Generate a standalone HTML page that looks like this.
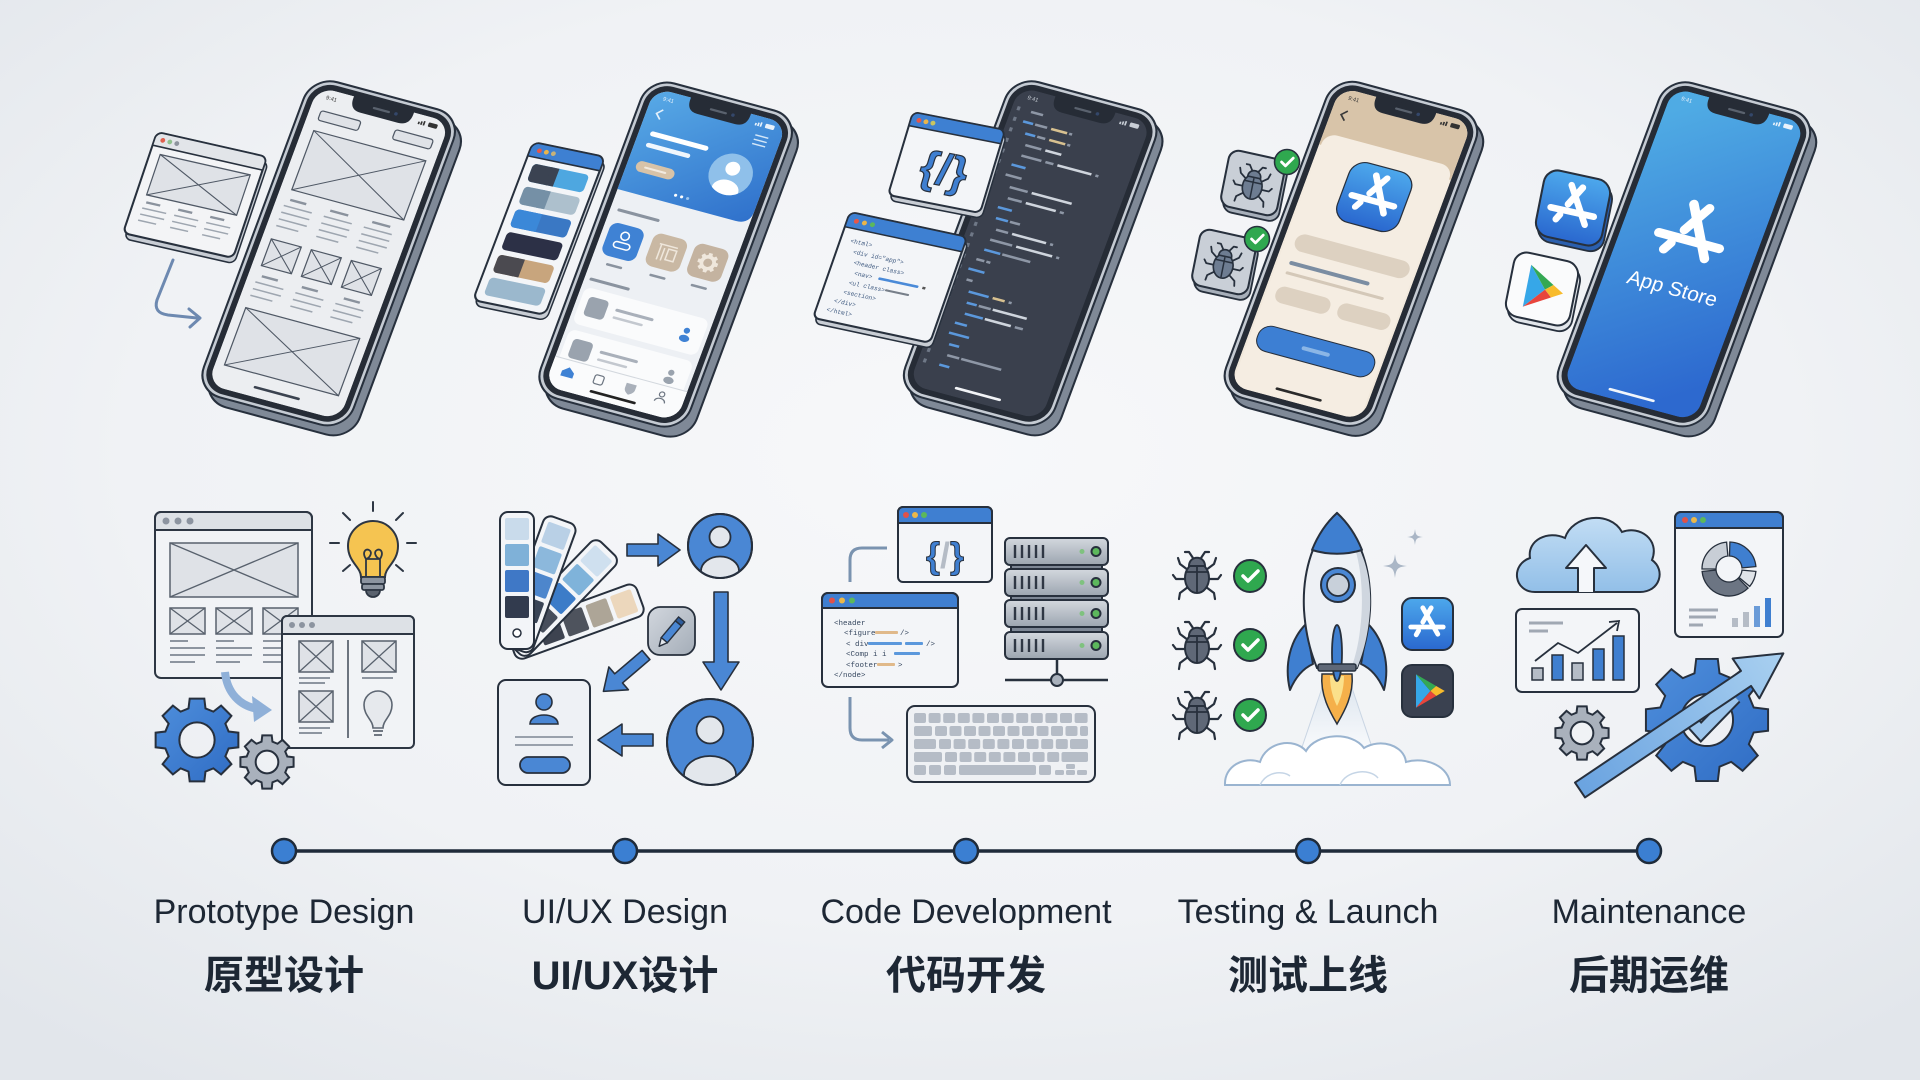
<!DOCTYPE html>
<html lang="en"><head><meta charset="utf-8"><title>App Development Process</title>
<style>
html,body{margin:0;padding:0;width:1920px;height:1080px;overflow:hidden;background:#eef1f5}
svg{display:block}
.en{font-family:"Liberation Sans","Noto Sans CJK SC",sans-serif;font-size:34px;fill:#1d2734}
.zh{font-family:"Liberation Sans","Noto Sans CJK SC",sans-serif;font-size:40px;font-weight:700;fill:#1d2734}
.sm{font-family:"Liberation Sans",sans-serif}
.mono{font-family:"Liberation Mono",monospace}
</style></head><body>
<svg width="1920" height="1080" viewBox="0 0 1920 1080" xmlns="http://www.w3.org/2000/svg">
<defs>
<radialGradient id="bg" cx="50%" cy="42%" r="72%"><stop offset="0" stop-color="#f7f8fa"/><stop offset="0.6" stop-color="#f0f2f5"/><stop offset="1" stop-color="#e2e6eb"/></radialGradient>
<linearGradient id="gHdr" x1="0" y1="0" x2="1" y2="1"><stop offset="0" stop-color="#58aae6"/><stop offset="1" stop-color="#2f70cb"/></linearGradient>
<linearGradient id="gP5" x1="0.3" y1="0" x2="0.6" y2="1"><stop offset="0" stop-color="#4fabe4"/><stop offset="1" stop-color="#2d69cf"/></linearGradient>
<linearGradient id="gApp" x1="0" y1="0" x2="0" y2="1"><stop offset="0" stop-color="#4da8ec"/><stop offset="1" stop-color="#2a68cf"/></linearGradient>
<linearGradient id="gP4" x1="0" y1="0" x2="0" y2="1"><stop offset="0" stop-color="#f6eee3"/><stop offset="1" stop-color="#f0e7da"/></linearGradient>
<linearGradient id="gSrv" x1="0" y1="0" x2="0" y2="1"><stop offset="0" stop-color="#d3d8de"/><stop offset="1" stop-color="#9ca5b0"/></linearGradient>
<linearGradient id="gTile" x1="0" y1="0" x2="1" y2="1"><stop offset="0" stop-color="#d2d7de"/><stop offset="1" stop-color="#a4adb8"/></linearGradient>
<linearGradient id="gArrow" x1="0" y1="0" x2="1" y2="0"><stop offset="0" stop-color="#6aa3e0"/><stop offset="1" stop-color="#a9d0f0"/></linearGradient>
<linearGradient id="gCloud" x1="0" y1="0" x2="0" y2="1"><stop offset="0" stop-color="#c2ddf4"/><stop offset="1" stop-color="#92bfe8"/></linearGradient>
<linearGradient id="gGear" x1="0" y1="0" x2="1" y2="1"><stop offset="0" stop-color="#4f8fdc"/><stop offset="1" stop-color="#2f6cc4"/></linearGradient>
<linearGradient id="gTrail" x1="0" y1="0" x2="0" y2="1"><stop offset="0" stop-color="#dfe7f0"/><stop offset="1" stop-color="#ffffff"/></linearGradient>

<path id="gear" fill-rule="evenodd" d="M75.3,-20.2 L98.5,-17.4 L98.5,17.4 L75.3,20.2 L67.5,39 L81.9,57.4 L57.4,81.9 L39,67.5 L20.2,75.3 L17.4,98.5 L-17.4,98.5 L-20.2,75.3 L-39,67.5 L-57.4,81.9 L-81.9,57.4 L-67.5,39 L-75.3,20.2 L-98.5,17.4 L-98.5,-17.4 L-75.3,-20.2 L-67.5,-39 L-81.9,-57.4 L-57.4,-81.9 L-39,-67.5 L-20.2,-75.3 L-17.4,-98.5 L17.4,-98.5 L20.2,-75.3 L39,-67.5 L57.4,-81.9 L81.9,-57.4 L67.5,-39 Z M42,0 A42,42 0 1 0 -42,0 A42,42 0 1 0 42,0 Z"/>

<g id="pside"><rect width="150" height="330" rx="25" fill="#7f8997" stroke="#27303d" stroke-width="2"/></g>
<g id="pfront"><rect width="150" height="330" rx="25" fill="#c5cbd3" stroke="#27303d" stroke-width="2"/><rect x="3.5" y="3.5" width="143" height="323" rx="22" fill="#262c36"/></g>
<g id="pnotch"><path d="M45,8 H105 V11 C105,19 101,23 94,23 H56 C49,23 45,19 45,11 Z" fill="#262c36"/><rect x="66" y="14" width="17" height="2.2" rx="1.1" fill="#5a626e"/><circle cx="89" cy="15" r="1.7" fill="#34476a"/></g>
<g id="sic"><rect x="112" y="16.5" width="1.6" height="2.5"/><rect x="114.5" y="15.5" width="1.6" height="3.5"/><rect x="117" y="14.5" width="1.6" height="4.5"/><rect x="122" y="14.5" width="9" height="4.5" rx="1.2"/></g>
<clipPath id="scr"><rect x="9" y="9" width="132" height="312" rx="17"/></clipPath>
<clipPath id="av2"><circle cx="107" cy="72" r="21"/></clipPath>
<clipPath id="avT"><circle cx="720" cy="546" r="31"/></clipPath>
<clipPath id="avB"><circle cx="710" cy="742" r="42"/></clipPath>

<g id="asl" fill="none" stroke="#fff" stroke-width="8" stroke-linecap="round">
<path d="M-7,-27 L18,17"/><path d="M7,-27 L-7,-3"/><path d="M-14,11 L-18,18"/><path d="M-27,5 L27,5"/>
</g>
<g id="play">
<path d="M-10,-14 L2,0 L-10,14 Z" fill="#36a7e8"/>
<path d="M-10,-14 L6.8,-4.2 L2,0 Z" fill="#34a853"/>
<path d="M6.8,-4.2 L14,0 L6.8,4.2 L2,0 Z" fill="#f8bb2c"/>
<path d="M-10,14 L2,0 L6.8,4.2 Z" fill="#e8453c"/>
</g>
<g id="bug">
<g stroke="#27303d" stroke-width="2.2" fill="none" stroke-linecap="round" stroke-linejoin="round">
<path d="M-9,-3 L-17,-9 L-19,-15 M9,-3 L17,-9 L19,-15 M-11,6 L-21,6 L-24,2 M11,6 L21,6 L24,2 M-9,14 L-17,20 L-18,26 M9,14 L17,20 L18,26 M-4,-15 L-8,-21 L-12,-21 M4,-15 L8,-21 L12,-21"/>
</g>
<ellipse cx="0" cy="5" rx="12" ry="15"/>
<path d="M-8,-7 C-8,-18 8,-18 8,-7 Z"/>
<path d="M0,-6 V19 M-11,-1 H11" stroke="#27303d" stroke-width="1.8" fill="none"/>
</g>
<g id="chk"><circle r="16" fill="#2fa84f" stroke="#27303d" stroke-width="2"/><path d="M-7,0 L-2,5 L8,-5" stroke="#fff" stroke-width="3.5" fill="none" stroke-linecap="round" stroke-linejoin="round"/></g>
<path id="spark" d="M0,-10 C1,-2 2,-1 10,0 C2,1 1,2 0,10 C-1,2 -2,1 -10,0 C-2,-1 -1,-2 0,-10 Z"/>
</defs>

<rect width="1920" height="1080" fill="url(#bg)"/>

<!-- ================= PHONE 1 : wireframe ================= -->
<g transform="matrix(1,0.227,-0.34,1.01,157,132)">
<rect x="3" y="5" width="110" height="100" rx="6" fill="#c8cdd4" stroke="#27303d" stroke-width="1.5"/>
<rect width="110" height="100" rx="6" fill="#f3f4f6" stroke="#27303d" stroke-width="2"/>
<path d="M0,13 V6 A6,6 0 0 1 6,0 H104 A6,6 0 0 1 110,6 V13 Z" fill="#e2e5e9" stroke="#27303d" stroke-width="1.5"/>
<circle cx="8" cy="6.5" r="2.3" fill="#e0604e"/><circle cx="15" cy="6.5" r="2.3" fill="#8fc18d"/><circle cx="22" cy="6.5" r="2.3" fill="#8d949e"/>
<rect x="10" y="20" width="90" height="40" fill="#dfe2e7" stroke="#4f5865" stroke-width="1.2"/>
<path d="M10,20 L100,60 M100,20 L10,60" stroke="#4f5865" stroke-width="1"/>
<g stroke="#8a929d" stroke-width="2.2"><path d="M12,67 H26 M44,67 H58 M76,67 H90"/></g>
<g stroke="#9ea6b0" stroke-width="1.4"><path d="M10,73 H34 M42,73 H66 M74,73 H98 M10,79 H34 M42,79 H66 M74,79 H98 M10,85 H28 M42,85 H60 M74,85 H92"/></g>
</g>
<path d="M173,260 L157,300 Q153,313 168,315 L197,318" stroke="#6d89b0" stroke-width="3" fill="none" stroke-linecap="round"/>
<path d="M189,309 L200,318 L190,327" stroke="#6d89b0" stroke-width="3" fill="none" stroke-linecap="round" stroke-linejoin="round"/>

<g transform="matrix(1,0.27,-0.355,0.955,318.25,85.5)"><use href="#pside"/></g>
<g transform="matrix(1,0.27,-0.355,0.955,312.25,75.5)">
<use href="#pfront"/>
<g clip-path="url(#scr)">
<rect x="9" y="9" width="132" height="312" fill="#eceef1"/>
<g fill="#dfe2e7" stroke="#4f5865" stroke-width="1.2">
<rect x="20" y="31" width="40" height="10" rx="2.5"/>
<rect x="94" y="30" width="38" height="10" rx="2.5"/>
<rect x="20" y="52" width="112" height="62"/>
<rect x="18" y="166" width="30" height="28"/>
<rect x="58" y="166" width="30" height="28"/>
<rect x="98" y="166" width="30" height="28"/>
<rect x="18" y="238" width="114" height="60"/>
</g>
<path d="M20,52 L132,114 M132,52 L20,114 M18,166 L48,194 M48,166 L18,194 M58,166 L88,194 M88,166 L58,194 M98,166 L128,194 M128,166 L98,194 M18,238 L132,298 M132,238 L18,298" stroke="#4f5865" stroke-width="1" fill="none"/>
<g stroke="#8a929d" stroke-width="2.4"><path d="M22,124 H38 M62,124 H80 M104,124 H122 M22,204 H38 M62,204 H78 M104,204 H120"/></g>
<g stroke="#9ea6b0" stroke-width="1.5"><path d="M18,131 H46 M58,131 H86 M98,131 H126 M18,138 H46 M58,138 H86 M98,138 H126 M18,145 H46 M58,145 H86 M98,145 H126 M18,152 H40 M58,152 H80 M98,152 H120 M18,211 H46 M58,211 H86 M98,211 H126 M18,218 H46 M58,218 H86 M98,218 H126 M18,225 H40 M58,225 H80 M98,225 H120"/></g>
<rect x="52" y="310" width="46" height="2.6" rx="1.3" fill="#3b4350"/>
</g>
<use href="#pnotch"/>
<text x="20" y="19" font-size="5.5" class="sm" fill="#333">9:41</text>
<use href="#sic" fill="#333"/>
</g>

<!-- ================= PHONE 2 : UI/UX ================= -->
<g transform="matrix(1,0.208,-0.375,0.9875,533,142)">
<rect x="3" y="5" width="72" height="160" rx="7" fill="#c8cdd4" stroke="#27303d" stroke-width="1.5"/>
<rect width="72" height="160" rx="7" fill="#f3f5f8" stroke="#27303d" stroke-width="2"/>
<path d="M0,14 V7 A7,7 0 0 1 7,0 H65 A7,7 0 0 1 72,7 V14 Z" fill="#3e80d2" stroke="#27303d" stroke-width="1.5"/>
<circle cx="9" cy="7" r="2.3" fill="#e6574a"/><circle cx="16" cy="7" r="2.3" fill="#eab54a"/><circle cx="23" cy="7" r="2.3" fill="#c6b27a"/>
<rect x="8" y="20" width="56" height="18" rx="4" fill="#4ea7e0"/><rect x="8" y="20" width="24" height="18" rx="4" fill="#3b4352"/><rect x="26" y="20" width="8" height="18" fill="#3b4352"/>
<rect x="8" y="43" width="56" height="18" rx="4" fill="#adc0cd"/><rect x="8" y="43" width="24" height="18" rx="4" fill="#7590a6"/><rect x="26" y="43" width="8" height="18" fill="#7590a6"/>
<rect x="8" y="66" width="56" height="18" rx="4" fill="#3a78c4"/><rect x="8" y="66" width="24" height="18" rx="4" fill="#3b88d8"/><rect x="26" y="66" width="8" height="18" fill="#3b88d8"/>
<rect x="8" y="89" width="56" height="18" rx="4" fill="#2c3046"/>
<rect x="8" y="112" width="56" height="18" rx="4" fill="#c8a57d"/><rect x="8" y="112" width="24" height="18" rx="4" fill="#4b4a50"/><rect x="26" y="112" width="8" height="18" fill="#4b4a50"/>
<rect x="8" y="135" width="56" height="18" rx="4" fill="#9bb8cd"/>
</g>

<g transform="matrix(1,0.27,-0.355,0.955,655.25,86.75)"><use href="#pside"/></g>
<g transform="matrix(1,0.27,-0.355,0.955,649.25,76.75)">
<use href="#pfront"/>
<g clip-path="url(#scr)">
<rect x="9" y="9" width="132" height="312" fill="#edf0f4"/>
<path d="M9,9 H141 V101 Q141,115 127,115 H9 Z" fill="url(#gHdr)"/>
<path d="M24,28 L19,33 L24,38" stroke="#e3f0fb" stroke-width="1.6" fill="none"/>
<path d="M116,28 H129 M116,32.5 H129 M116,37 H129" stroke="#d4e7f8" stroke-width="1.4"/>
<rect x="20" y="51" width="58" height="5" rx="2.5" fill="#fff"/>
<rect x="20" y="63" width="44" height="4.5" rx="2.2" fill="#fff" opacity="0.92"/>
<rect x="18" y="82" width="38" height="11" rx="5.5" fill="#d8c3a8"/><rect x="26" y="86.5" width="22" height="2" rx="1" fill="#f3ebe0"/>
<circle cx="107" cy="72" r="21" fill="#8fc0ea"/>
<g clip-path="url(#av2)"><circle cx="107" cy="66" r="7" fill="#fff"/><ellipse cx="107" cy="88" rx="13" ry="10" fill="#fff"/></g>
<circle cx="64" cy="106" r="1.5" fill="#fff"/><circle cx="70" cy="106" r="1.5" fill="#fff"/><circle cx="76" cy="106" r="1.5" fill="#9cc4ec"/>
<rect x="16" y="133" width="42" height="3" rx="1.5" fill="#8a939f"/>
<rect x="15" y="147" width="34" height="34" rx="8" fill="#3f82d4"/>
<circle cx="32" cy="158" r="4" fill="none" stroke="#fff" stroke-width="1.5"/><rect x="24" y="165" width="16" height="6" rx="3" fill="none" stroke="#fff" stroke-width="1.5"/>
<rect x="58" y="146" width="34" height="34" rx="8" fill="#c9b8a3"/>
<path d="M66,156 H84 M68,156 V172 M72,159 V172 M76,159 H84 V170 H76 Z" stroke="#efe7dc" stroke-width="1.5" fill="none"/>
<rect x="99" y="145" width="34" height="34" rx="8" fill="#c4b3a0"/>
<use href="#gear" transform="translate(116,162) scale(0.1)" fill="#efe7dc"/>
<rect x="24" y="188" width="16" height="2.5" rx="1.2" fill="#8a939f"/><rect x="67" y="187" width="16" height="2.5" rx="1.2" fill="#8a939f"/><rect x="108" y="186" width="16" height="2.5" rx="1.2" fill="#8a939f"/>
<rect x="14" y="206" width="40" height="3" rx="1.5" fill="#8a939f"/>
<rect x="13" y="216" width="124" height="38" rx="7" fill="#fafbfc"/>
<rect x="20" y="224" width="20" height="20" rx="4" fill="#9aa3ae"/>
<rect x="48" y="229" width="38" height="3" rx="1.5" fill="#a9b0ba"/><rect x="48" y="237" width="30" height="2.5" rx="1.2" fill="#c3c8cf"/>
<circle cx="120" cy="232" r="3" fill="#3f82d4"/><ellipse cx="120" cy="240" rx="5" ry="3.5" fill="#3f82d4"/>
<rect x="13" y="260" width="124" height="38" rx="7" fill="#fafbfc"/>
<rect x="20" y="268" width="20" height="20" rx="4" fill="#9aa3ae"/>
<rect x="48" y="273" width="38" height="3" rx="1.5" fill="#a9b0ba"/><rect x="48" y="281" width="30" height="2.5" rx="1.2" fill="#c3c8cf"/>
<circle cx="120" cy="276" r="3" fill="#9aa3ae"/><ellipse cx="120" cy="284" rx="5" ry="3.5" fill="#9aa3ae"/>
<rect x="9" y="290" width="132" height="31" fill="#fafbfc"/>
<path d="M9,290 H141" stroke="#d3d8de" stroke-width="1"/>
<path d="M20,302 L26,297 L32,302 V307 H20 Z" fill="#3f82d4"/>
<rect x="52" y="297" width="9" height="9" rx="2" fill="none" stroke="#6d7682" stroke-width="1.2"/>
<path d="M83,297 H93 V302 C93,305 90,307 88,308 C86,307 83,305 83,302 Z" fill="#a9b0ba"/>
<circle cx="119" cy="299" r="2.5" fill="none" stroke="#6d7682" stroke-width="1.2"/><path d="M114,307 C114,302 124,302 124,307" fill="none" stroke="#6d7682" stroke-width="1.2"/>
<rect x="52" y="313" width="46" height="2.6" rx="1.3" fill="#222"/>
</g>
<use href="#pnotch"/>
<text x="20" y="19" font-size="5.5" class="sm" fill="#e8f2fb">9:41</text>
<use href="#sic" fill="#e8f2fb"/>
</g>

<!-- ================= PHONE 3 : code ================= -->
<g transform="matrix(1,0.27,-0.355,0.955,1019.75,85.5)"><use href="#pside"/></g>
<g transform="matrix(1,0.27,-0.355,0.955,1013.75,75.5)">
<use href="#pfront"/>
<g clip-path="url(#scr)">
<rect x="9" y="9" width="132" height="312" fill="#3a404d"/>
<g fill="#6f7887">
<rect x="14" y="28" width="3" height="4"/><rect x="14" y="39" width="3" height="4"/><rect x="14" y="50" width="3" height="4"/><rect x="14" y="61" width="3" height="4"/><rect x="14" y="72" width="3" height="4"/><rect x="14" y="83" width="3" height="4"/><rect x="14" y="94" width="3" height="4"/><rect x="14" y="105" width="3" height="4"/><rect x="14" y="116" width="3" height="4"/><rect x="14" y="127" width="3" height="4"/><rect x="14" y="138" width="3" height="4"/><rect x="14" y="149" width="3" height="4"/><rect x="14" y="160" width="3" height="4"/><rect x="14" y="171" width="3" height="4"/><rect x="14" y="182" width="3" height="4"/><rect x="14" y="193" width="3" height="4"/><rect x="14" y="204" width="3" height="4"/><rect x="14" y="215" width="3" height="4"/><rect x="14" y="226" width="3" height="4"/><rect x="14" y="237" width="3" height="4"/><rect x="14" y="248" width="3" height="4"/><rect x="14" y="259" width="3" height="4"/><rect x="14" y="270" width="3" height="4"/><rect x="14" y="281" width="3" height="4"/><rect x="14" y="292" width="3" height="4"/>
</g>
<g fill="#8e97a6">
<rect x="28" y="29" width="12" height="2.5"/>
<rect x="36" y="40" width="12" height="2.5"/><rect x="70" y="40" width="3" height="2.5"/>
<rect x="42" y="51" width="8" height="2.5"/><rect x="72" y="51" width="3" height="2.5"/>
<rect x="34" y="62" width="16" height="2.5"/>
<rect x="34" y="73" width="20" height="2.5"/><rect x="58" y="73" width="8" height="2.5"/><rect x="108" y="73" width="3" height="2.5"/>
<rect x="26" y="95" width="16" height="2.5"/>
<rect x="34" y="106" width="18" height="2.5"/>
<rect x="36" y="117" width="14" height="2.5"/><rect x="88" y="117" width="4" height="2.5"/>
<rect x="46" y="139" width="10" height="2.5"/>
<rect x="36" y="150" width="12" height="2.5"/><rect x="90" y="150" width="3" height="2.5"/>
<rect x="34" y="161" width="22" height="2.5"/><rect x="100" y="161" width="3" height="2.5"/>
<rect x="50" y="172" width="28" height="2.5"/>
<rect x="28" y="183" width="8" height="2.5"/><rect x="38" y="183" width="4" height="2.5"/>
<rect x="26" y="205" width="6" height="2.5"/>
<rect x="72" y="216" width="3" height="2.5"/>
<rect x="46" y="227" width="12" height="2.5"/>
<rect x="86" y="238" width="8" height="2.5"/>
<rect x="34" y="282" width="12" height="2.5"/><rect x="48" y="282" width="40" height="2.5"/>
</g>
<g fill="#5b98dc">
<rect x="24" y="40" width="10" height="2.5"/><rect x="30" y="51" width="10" height="2.5"/>
<rect x="28" y="84" width="14" height="2.5"/><rect x="30" y="128" width="14" height="2.5"/><rect x="32" y="139" width="12" height="2.5"/>
<rect x="32" y="172" width="16" height="2.5"/><rect x="24" y="194" width="16" height="2.5"/><rect x="32" y="216" width="20" height="2.5"/>
<rect x="34" y="227" width="10" height="2.5"/><rect x="36" y="238" width="18" height="2.5"/><rect x="30" y="249" width="12" height="2.5"/>
<rect x="28" y="260" width="20" height="2.5"/><rect x="32" y="271" width="10" height="2.5"/><rect x="30" y="293" width="10" height="2.5"/>
</g>
<g fill="#d8c190">
<rect x="52" y="40" width="16" height="2.5"/><rect x="54" y="51" width="16" height="2.5"/><rect x="56" y="216" width="12" height="2.5"/>
</g>
<g fill="#cfd5dd">
<rect x="54" y="62" width="16" height="2.5"/><rect x="70" y="73" width="34" height="2.5"/><rect x="56" y="106" width="40" height="2.5"/>
<rect x="54" y="117" width="30" height="2.5"/><rect x="52" y="150" width="34" height="2.5"/><rect x="60" y="161" width="36" height="2.5"/>
<rect x="60" y="227" width="34" height="2.5"/><rect x="56" y="238" width="26" height="2.5"/>
</g>
<rect x="52" y="311" width="46" height="2.6" rx="1.3" fill="#f2f4f7"/>
</g>
<use href="#pnotch"/>
<text x="20" y="19" font-size="5.5" class="sm" fill="#c8ced6">9:41</text>
<use href="#sic" fill="#c8ced6"/>
</g>
<!-- code windows -->
<g transform="matrix(1,0.196,-0.294,0.976,913,112)">
<rect x="3" y="5" width="92" height="85" rx="6" fill="#c8cdd4" stroke="#27303d" stroke-width="1.5"/>
<rect width="92" height="85" rx="6" fill="#f3f5f8" stroke="#27303d" stroke-width="2"/>
<path d="M0,14 V6 A6,6 0 0 1 6,0 H86 A6,6 0 0 1 92,6 V14 Z" fill="#3e80d2" stroke="#27303d" stroke-width="1.5"/>
<circle cx="8" cy="7" r="2.4" fill="#e6574a"/><circle cx="15" cy="7" r="2.4" fill="#eab54a"/><circle cx="22" cy="7" r="2.4" fill="#c9c560"/>
<text x="46" y="65" text-anchor="middle" class="sm" font-size="44" font-weight="700" fill="#3f7fd1" stroke="#27303d" stroke-width="1.2">{/}</text>
</g>
<g transform="matrix(1,0.214,-0.343,0.98,850,212)">
<rect x="3" y="5" width="117" height="108" rx="6" fill="#c8cdd4" stroke="#27303d" stroke-width="1.5"/>
<rect width="117" height="108" rx="6" fill="#f3f5f8" stroke="#27303d" stroke-width="2"/>
<path d="M0,15 V6 A6,6 0 0 1 6,0 H111 A6,6 0 0 1 117,6 V15 Z" fill="#3e80d2" stroke="#27303d" stroke-width="1.5"/>
<circle cx="9" cy="7.5" r="2.4" fill="#e6574a"/><circle cx="17" cy="7.5" r="2.4" fill="#eab54a"/><circle cx="25" cy="7.5" r="2.4" fill="#5cb85c"/>
<g class="mono" font-size="6" fill="#3f5a80">
<text x="10" y="29">&lt;html&gt;</text>
<text x="16" y="39">&lt;div id="app"&gt;</text>
<text x="20" y="49">&lt;header class&gt;</text>
<text x="24" y="59">&lt;nav&gt;</text>
<text x="22" y="69">&lt;ul class&gt;</text>
<text x="20" y="79">&lt;section&gt;</text>
<text x="14" y="89">&lt;/div&gt;</text>
<text x="10" y="99">&lt;/html&gt;</text>
</g>
<rect x="48" y="56" width="40" height="2.5" rx="1" fill="#4a8ad8"/><rect x="92" y="56" width="3" height="2.5" fill="#555"/>
<rect x="58" y="66" width="24" height="2" rx="1" fill="#777f8a"/>
</g>

<!-- ================= PHONE 4 : testing ================= -->
<g transform="matrix(1,0.27,-0.355,0.955,1340.5,86)"><use href="#pside"/></g>
<g transform="matrix(1,0.27,-0.355,0.955,1334.5,76)">
<use href="#pfront"/>
<g clip-path="url(#scr)">
<rect x="9" y="9" width="132" height="312" fill="url(#gP4)"/>
<rect x="9" y="9" width="132" height="60" fill="#d8c4a9"/>
<path d="M24,30 L19,35 L24,40" stroke="#3a3a3a" stroke-width="1.6" fill="none"/>
<rect x="11" y="56" width="128" height="270" rx="12" fill="#f5ede2"/>
<rect x="46" y="74" width="62" height="62" rx="15" fill="url(#gApp)" stroke="#27303d" stroke-width="1.2"/>
<use href="#asl" transform="translate(77,105) scale(0.78)"/>
<rect x="20" y="158" width="114" height="18" rx="9" fill="#ddd1c1"/>
<rect x="22" y="187" width="80" height="4" rx="2" fill="#7b8da2"/>
<rect x="22" y="198" width="98" height="3" rx="1.5" fill="#d4c8b8"/>
<rect x="20" y="213" width="54" height="17" rx="8" fill="#ddd1c1"/>
<rect x="82" y="213" width="52" height="17" rx="8" fill="#ddd1c1"/>
<rect x="18" y="254" width="116" height="26" rx="12" fill="#3d7fd3" stroke="#27303d" stroke-width="1"/>
<rect x="62" y="265" width="28" height="4" rx="2" fill="#8bb6e6"/>
<rect x="52" y="311" width="46" height="2.6" rx="1.3" fill="#2a2a2a"/>
</g>
<use href="#pnotch"/>
<text x="20" y="19" font-size="5.5" class="sm" fill="#333">9:41</text>
<use href="#sic" fill="#333"/>
</g>
<!-- bug cards -->
<g transform="translate(1253,183) matrix(1,0.22,-0.2,1,0,0)">
<rect x="-25" y="-23" width="56" height="56" rx="10" fill="#a7afba" stroke="#27303d" stroke-width="1.8"/>
<rect x="-28" y="-28" width="56" height="56" rx="10" fill="#c9cfd7" stroke="#27303d" stroke-width="2"/>
<use href="#bug" transform="scale(0.8)" fill="#6e7d92" stroke="#27303d" stroke-width="2"/>
</g>
<use href="#chk" transform="translate(1287,162) scale(0.78)"/>
<g transform="translate(1224,262) matrix(1,0.22,-0.2,1,0,0)">
<rect x="-25" y="-23" width="56" height="56" rx="10" fill="#a7afba" stroke="#27303d" stroke-width="1.8"/>
<rect x="-28" y="-28" width="56" height="56" rx="10" fill="#c9cfd7" stroke="#27303d" stroke-width="2"/>
<use href="#bug" transform="scale(0.8)" fill="#6e7d92" stroke="#27303d" stroke-width="2"/>
</g>
<use href="#chk" transform="translate(1257,239) scale(0.78)"/>

<!-- ================= PHONE 5 : launch ================= -->
<g transform="matrix(1,0.27,-0.355,0.955,1673.5,86.5)"><use href="#pside"/></g>
<g transform="matrix(1,0.27,-0.355,0.955,1667.5,76.5)">
<use href="#pfront"/>
<g clip-path="url(#scr)">
<rect x="9" y="9" width="132" height="312" fill="url(#gP5)"/>
<use href="#asl" transform="translate(75,145) scale(1.12)"/>
<text x="76" y="207" text-anchor="middle" class="sm" font-size="20" fill="#ffffff">App Store</text>
<rect x="52" y="311" width="46" height="2.6" rx="1.3" fill="#f2f6fb"/>
</g>
<use href="#pnotch"/>
<text x="20" y="19" font-size="5.5" class="sm" fill="#e8f2fb">9:41</text>
<use href="#sic" fill="#e8f2fb"/>
</g>
<g transform="translate(1573,208) matrix(1,0.22,-0.2,1,0,0)">
<rect x="-30" y="-28" width="66" height="66" rx="14" fill="#2b5fae" stroke="#27303d" stroke-width="1.8"/>
<rect x="-33" y="-33" width="66" height="66" rx="14" fill="url(#gApp)" stroke="#27303d" stroke-width="2"/>
<use href="#asl" transform="scale(0.8)"/>
</g>
<g transform="translate(1542,289) matrix(1,0.22,-0.2,1,0,0)">
<rect x="-29" y="-27" width="64" height="64" rx="13" fill="#e1e5ea" stroke="#27303d" stroke-width="1.8"/>
<rect x="-32" y="-32" width="64" height="64" rx="13" fill="#fafbfc" stroke="#27303d" stroke-width="2"/>
<use href="#play" transform="scale(1.5)"/>
</g>

<!-- ================= ICON GROUP 1 ================= -->
<rect x="155" y="512" width="157" height="166" rx="6" fill="#f1f3f6" stroke="#2d3643" stroke-width="2"/>
<path d="M155,530 V518 A6,6 0 0 1 161,512 H306 A6,6 0 0 1 312,518 V530 Z" fill="#dde1e6" stroke="#2d3643" stroke-width="2"/>
<circle cx="166" cy="521" r="3.5" fill="#8c94a0"/><circle cx="178" cy="521" r="3.5" fill="#8c94a0"/><circle cx="190" cy="521" r="3.5" fill="#8c94a0"/>
<g fill="#dfe2e7" stroke="#58616d" stroke-width="1.5">
<rect x="170" y="543" width="128" height="54"/><rect x="170" y="608" width="35" height="26"/><rect x="216" y="608" width="36" height="26"/><rect x="263" y="608" width="35" height="26"/>
</g>
<path d="M170,543 L298,597 M298,543 L170,597 M170,608 L205,634 M205,608 L170,634 M216,608 L252,634 M252,608 L216,634 M263,608 L298,634 M298,608 L263,634" stroke="#58616d" stroke-width="1.3" fill="none"/>
<g stroke="#8d95a0" stroke-width="2"><path d="M170,641 H188 M216,641 H234 M263,641 H281 M170,648 H205 M216,648 H252 M263,648 H298 M170,655 H205 M216,655 H252 M263,655 H298 M170,662 H195 M216,662 H240 M263,662 H288"/></g>
<!-- lightbulb -->
<g stroke="#2d3643" stroke-width="2" stroke-linecap="round"><path d="M373,502 V511 M330,543 H339 M407,543 H416 M343,513 L350,520 M403,513 L396,520 M343,571 L350,565 M403,571 L396,565"/></g>
<path d="M361,577 C361,567 348,562 348,546 A25,25 0 1 1 398,546 C398,562 385,567 385,577 Z" fill="#f5c451" stroke="#2d3643" stroke-width="2"/>
<path d="M366,576 V559 C362,553 365,548 369,550 C373,552 370,558 366,559 M380,576 V559 C384,553 381,548 377,550 C373,552 376,558 380,559 M366,559 H380" stroke="#2d3643" stroke-width="1.8" fill="none"/>
<rect x="361" y="577" width="24" height="7" rx="2" fill="#8c94a0" stroke="#2d3643" stroke-width="1.8"/>
<rect x="362" y="584" width="22" height="6" rx="2" fill="#8c94a0" stroke="#2d3643" stroke-width="1.8"/>
<path d="M366,590 H380 C380,595 376,597 373,597 C370,597 366,595 366,590 Z" fill="#5a626e" stroke="#2d3643" stroke-width="1.8"/>
<!-- second window -->
<rect x="282" y="616" width="132" height="132" rx="5" fill="#f1f3f6" stroke="#2d3643" stroke-width="2"/>
<path d="M282,634 V621 A5,5 0 0 1 287,616 H409 A5,5 0 0 1 414,621 V634 Z" fill="#dde1e6" stroke="#2d3643" stroke-width="2"/>
<circle cx="292" cy="625" r="3" fill="#8c94a0"/><circle cx="302" cy="625" r="3" fill="#8c94a0"/><circle cx="312" cy="625" r="3" fill="#8c94a0"/>
<g fill="#dfe2e7" stroke="#58616d" stroke-width="1.5"><rect x="299" y="641" width="34" height="31"/><rect x="362" y="641" width="34" height="31"/><rect x="299" y="691" width="34" height="31"/></g>
<path d="M299,641 L333,672 M333,641 L299,672 M362,641 L396,672 M396,641 L362,672 M299,691 L333,722 M333,691 L299,722" stroke="#58616d" stroke-width="1.3"/>
<g stroke="#8d95a0" stroke-width="2"><path d="M299,678 H330 M299,683 H325 M362,678 H393 M299,728 H330 M299,733 H322"/></g>
<path d="M348,640 V738" stroke="#5d6672" stroke-width="1.8"/>
<path d="M373,728 C373,720 364,716 364,705 A14,14 0 1 1 392,705 C392,716 383,720 383,728 Z" fill="#e6e9ed" stroke="#5d6672" stroke-width="1.6"/>
<path d="M373,731 H383 M374,735 H382" stroke="#5d6672" stroke-width="1.8"/>
<!-- curved arrow -->
<path d="M225,672 C227,693 240,706 258,709" stroke="#8fb0d8" stroke-width="8" fill="none"/>
<path d="M252,696 L272,710 L254,722 Z" fill="#8fb0d8"/>
<!-- gears -->
<use href="#gear" transform="translate(197,740) scale(0.42)" fill="url(#gGear)" stroke="#27303d" stroke-width="4.8"/>
<use href="#gear" transform="translate(267,762) scale(0.27)" fill="#a9b1bc" stroke="#27303d" stroke-width="7.4"/>

<!-- ================= ICON GROUP 2 ================= -->
<g transform="translate(517,643) rotate(70)">
<rect x="-17" y="-131" width="34" height="137" rx="8" fill="#f3f5f8" stroke="#27303d" stroke-width="2"/>
<rect x="-12" y="-125" width="24" height="22" rx="2" fill="#ecd7bc"/><rect x="-12" y="-99" width="24" height="22" rx="2" fill="#ada597"/><rect x="-12" y="-73" width="24" height="22" rx="2" fill="#4e535d"/><rect x="-12" y="-47" width="24" height="22" rx="2" fill="#3d4350"/>
</g>
<g transform="translate(517,643) rotate(44)">
<rect x="-17" y="-131" width="34" height="137" rx="8" fill="#f3f5f8" stroke="#27303d" stroke-width="2"/>
<rect x="-12" y="-125" width="24" height="22" rx="2" fill="#cfe0ef"/><rect x="-12" y="-99" width="24" height="22" rx="2" fill="#7fb3da"/><rect x="-12" y="-73" width="24" height="22" rx="2" fill="#3c7cc8"/><rect x="-12" y="-47" width="24" height="22" rx="2" fill="#474e5c"/>
</g>
<g transform="translate(517,643) rotate(20)">
<rect x="-17" y="-131" width="34" height="137" rx="8" fill="#f3f5f8" stroke="#27303d" stroke-width="2"/>
<rect x="-12" y="-125" width="24" height="22" rx="2" fill="#b9d0e6"/><rect x="-12" y="-99" width="24" height="22" rx="2" fill="#8cb8dc"/><rect x="-12" y="-73" width="24" height="22" rx="2" fill="#4d86cc"/><rect x="-12" y="-47" width="24" height="22" rx="2" fill="#3a4556"/>
</g>
<g transform="translate(517,643)">
<rect x="-17" y="-131" width="34" height="137" rx="8" fill="#f3f5f8" stroke="#27303d" stroke-width="2"/>
<rect x="-12" y="-125" width="24" height="22" rx="2" fill="#c9dbeb"/><rect x="-12" y="-99" width="24" height="22" rx="2" fill="#7fb1d8"/><rect x="-12" y="-73" width="24" height="22" rx="2" fill="#3f78c6"/><rect x="-12" y="-47" width="24" height="22" rx="2" fill="#323b4e"/>
<circle cx="0" cy="-10" r="4" fill="#fff" stroke="#27303d" stroke-width="1.5"/>
</g>
<g fill="#4a87d4" stroke="#27303d" stroke-width="1.6" stroke-linejoin="round">
<path d="M627,544 H658 V534 L680,550 L658,566 V556 H627 Z"/>
<path d="M714,592 H728 V662 H739 L721,690 L703,662 H714 Z"/>
<path d="M653,734 H622 V724 L598,740 L622,756 V746 H653 Z"/>
<path transform="translate(646,655) rotate(139.5)" d="M0,-6 H36 V-15 L56,0 L36,15 V6 H0 Z"/>
</g>
<circle cx="720" cy="546" r="32" fill="#4a87d4" stroke="#27303d" stroke-width="2"/>
<g clip-path="url(#avT)"><ellipse cx="720" cy="571" rx="19" ry="14.5" fill="#e3e7ec" stroke="#27303d" stroke-width="1.8"/></g>
<circle cx="720" cy="537" r="10.5" fill="#e3e7ec" stroke="#27303d" stroke-width="1.8"/>
<circle cx="720" cy="546" r="32" fill="none" stroke="#27303d" stroke-width="2"/>
<circle cx="710" cy="742" r="43" fill="#4a87d4" stroke="#27303d" stroke-width="2"/>
<g clip-path="url(#avB)"><ellipse cx="710" cy="775" rx="26" ry="19" fill="#e3e7ec" stroke="#27303d" stroke-width="1.8"/></g>
<circle cx="710" cy="730" r="13.5" fill="#e3e7ec" stroke="#27303d" stroke-width="1.8"/>
<circle cx="710" cy="742" r="43" fill="none" stroke="#27303d" stroke-width="2"/>
<rect x="648" y="607" width="47" height="48" rx="12" fill="url(#gTile)" stroke="#27303d" stroke-width="1.8"/>
<g transform="translate(672,631) rotate(-50)">
<rect x="-12" y="-4" width="22" height="8" fill="#4a87d4" stroke="#27303d" stroke-width="1.4"/>
<path d="M-12,-4 L-20,0 L-12,4 Z" fill="#e3e7ec" stroke="#27303d" stroke-width="1.4" stroke-linejoin="round"/>
<rect x="10" y="-4" width="5" height="8" fill="#2f5d9c" stroke="#27303d" stroke-width="1.4"/>
</g>
<rect x="498" y="680" width="92" height="105" rx="8" fill="#eef1f5" stroke="#27303d" stroke-width="2"/>
<circle cx="544" cy="702" r="8" fill="#4a87d4" stroke="#27303d" stroke-width="1.6"/>
<path d="M530,724 C530,712 558,712 558,724 Z" fill="#4a87d4" stroke="#27303d" stroke-width="1.6"/>
<path d="M515,737 H573 M515,745 H573" stroke="#99a1ac" stroke-width="2"/>
<rect x="520" y="757" width="50" height="16" rx="8" fill="#4a87d4" stroke="#27303d" stroke-width="1.8"/>

<!-- ================= ICON GROUP 3 ================= -->
<path d="M850,582 V560 Q850,548 862,548 H887" stroke="#7a93b0" stroke-width="3" fill="none"/>
<path d="M850,697 V728 Q850,740 862,740 H889" stroke="#7a93b0" stroke-width="3" fill="none"/>
<path d="M882,732 L892,740 L882,748" stroke="#7a93b0" stroke-width="3" fill="none" stroke-linejoin="round"/>
<rect x="898" y="507" width="94" height="75" rx="5" fill="#f3f5f8" stroke="#27303d" stroke-width="2"/>
<path d="M898,523 V512 A5,5 0 0 1 903,507 H987 A5,5 0 0 1 992,512 V523 Z" fill="#3f7fd1" stroke="#27303d" stroke-width="2"/>
<circle cx="906" cy="515" r="3" fill="#e0524a"/><circle cx="915" cy="515" r="3" fill="#ecb84a"/><circle cx="924" cy="515" r="3" fill="#5cb85c"/>
<text x="945" y="568" text-anchor="middle" class="sm" font-size="36" font-weight="700" stroke="#27303d" stroke-width="1"><tspan fill="#3f7fd1">{</tspan><tspan fill="#b5bcc6" stroke="none">/</tspan><tspan fill="#3f7fd1">}</tspan></text>
<rect x="822" y="593" width="136" height="94" rx="6" fill="#f3f5f8" stroke="#27303d" stroke-width="2"/>
<path d="M822,608 V599 A6,6 0 0 1 828,593 H952 A6,6 0 0 1 958,599 V608 Z" fill="#3f7fd1" stroke="#27303d" stroke-width="2"/>
<circle cx="832" cy="600.5" r="3" fill="#e0524a"/><circle cx="842" cy="600.5" r="3" fill="#ecb84a"/><circle cx="852" cy="600.5" r="3" fill="#5cb85c"/>
<g class="mono" font-size="7.5" fill="#36475f">
<text x="834" y="625">&lt;header</text>
<text x="844" y="635">&lt;figure</text><text x="900" y="635">/&gt;</text>
<text x="846" y="646">&lt; div</text><text x="926" y="646">/&gt;</text>
<text x="846" y="656">&lt;Comp i i</text>
<text x="846" y="667">&lt;footer</text><text x="898" y="667">&gt;</text>
<text x="834" y="677">&lt;/node&gt;</text>
</g>
<rect x="875" y="631" width="23" height="3" rx="1" fill="#e0b98a"/>
<rect x="868" y="642" width="34" height="3" rx="1" fill="#5b98dc"/><rect x="905" y="642" width="18" height="3" rx="1" fill="#5b98dc"/>
<rect x="894" y="652" width="26" height="3" rx="1" fill="#5b98dc"/>
<rect x="877" y="663" width="18" height="3" rx="1" fill="#e0b98a"/>
<!-- server -->
<rect x="1011" y="545" width="91" height="110" fill="#7d8795" stroke="#27303d" stroke-width="2"/>
<g fill="url(#gSrv)" stroke="#27303d" stroke-width="2">
<rect x="1005" y="538" width="103" height="27" rx="5"/><rect x="1005" y="569" width="103" height="27" rx="5"/><rect x="1005" y="600" width="103" height="27" rx="5"/><rect x="1005" y="632" width="103" height="27" rx="5"/>
</g>
<g stroke="#2f3744" stroke-width="2.4"><path d="M1015,545 V558 M1022,545 V558 M1029,545 V558 M1036,545 V558 M1043,545 V558 M1015,576 V589 M1022,576 V589 M1029,576 V589 M1036,576 V589 M1043,576 V589 M1015,607 V620 M1022,607 V620 M1029,607 V620 M1036,607 V620 M1043,607 V620 M1015,639 V652 M1022,639 V652 M1029,639 V652 M1036,639 V652 M1043,639 V652"/></g>
<g fill="#7fc27f"><circle cx="1082" cy="551.5" r="2.5"/><circle cx="1082" cy="582.5" r="2.5"/><circle cx="1082" cy="613.5" r="2.5"/><circle cx="1082" cy="645.5" r="2.5"/></g>
<g fill="#5cb85c" stroke="#27303d" stroke-width="2"><circle cx="1096" cy="551.5" r="4.5"/><circle cx="1096" cy="582.5" r="4.5"/><circle cx="1096" cy="613.5" r="4.5"/><circle cx="1096" cy="645.5" r="4.5"/></g>
<path d="M1057,659 V674 M1005,680 H1051 M1063,680 H1108" stroke="#27303d" stroke-width="2.5"/>
<circle cx="1057" cy="680" r="6" fill="#a9b1bc" stroke="#27303d" stroke-width="2"/>
<!-- keyboard -->
<rect x="907" y="706" width="188" height="76" rx="8" fill="#eff1f4" stroke="#27303d" stroke-width="2"/>
<g fill="#b5bcc6">
<rect x="914" y="713" width="12" height="10" rx="2"/><rect x="928.6" y="713" width="12" height="10" rx="2"/><rect x="943.2" y="713" width="12" height="10" rx="2"/><rect x="957.8" y="713" width="12" height="10" rx="2"/><rect x="972.4" y="713" width="12" height="10" rx="2"/><rect x="987" y="713" width="12" height="10" rx="2"/><rect x="1001.6" y="713" width="12" height="10" rx="2"/><rect x="1016.2" y="713" width="12" height="10" rx="2"/><rect x="1030.8" y="713" width="12" height="10" rx="2"/><rect x="1045.4" y="713" width="12" height="10" rx="2"/><rect x="1060" y="713" width="12" height="10" rx="2"/><rect x="1074.6" y="713" width="13" height="10" rx="2"/>
<rect x="914" y="726" width="18" height="10" rx="2"/><rect x="935" y="726" width="12" height="10" rx="2"/><rect x="949.5" y="726" width="12" height="10" rx="2"/><rect x="964" y="726" width="12" height="10" rx="2"/><rect x="978.5" y="726" width="12" height="10" rx="2"/><rect x="993" y="726" width="12" height="10" rx="2"/><rect x="1007.5" y="726" width="12" height="10" rx="2"/><rect x="1022" y="726" width="12" height="10" rx="2"/><rect x="1036.5" y="726" width="12" height="10" rx="2"/><rect x="1051" y="726" width="12" height="10" rx="2"/><rect x="1065.5" y="726" width="12" height="10" rx="2"/><rect x="1080" y="726" width="8" height="10" rx="2"/>
<rect x="914" y="739" width="22" height="10" rx="2"/><rect x="939" y="739" width="12" height="10" rx="2"/><rect x="953.6" y="739" width="12" height="10" rx="2"/><rect x="968.2" y="739" width="12" height="10" rx="2"/><rect x="982.8" y="739" width="12" height="10" rx="2"/><rect x="997.4" y="739" width="12" height="10" rx="2"/><rect x="1012" y="739" width="12" height="10" rx="2"/><rect x="1026.6" y="739" width="12" height="10" rx="2"/><rect x="1041.2" y="739" width="12" height="10" rx="2"/><rect x="1055.8" y="739" width="12" height="10" rx="2"/><rect x="1070" y="739" width="18" height="10" rx="2"/>
<rect x="914" y="752" width="28" height="10" rx="2"/><rect x="945" y="752" width="12" height="10" rx="2"/><rect x="959.6" y="752" width="12" height="10" rx="2"/><rect x="974.2" y="752" width="12" height="10" rx="2"/><rect x="988.8" y="752" width="12" height="10" rx="2"/><rect x="1003.4" y="752" width="12" height="10" rx="2"/><rect x="1018" y="752" width="12" height="10" rx="2"/><rect x="1032.6" y="752" width="12" height="10" rx="2"/><rect x="1047.2" y="752" width="12" height="10" rx="2"/><rect x="1061.5" y="752" width="26.5" height="10" rx="2"/>
<rect x="914" y="765" width="12" height="10" rx="2"/><rect x="929" y="765" width="12" height="10" rx="2"/><rect x="944" y="765" width="12" height="10" rx="2"/><rect x="959" y="765" width="77" height="10" rx="2"/><rect x="1039" y="765" width="12" height="10" rx="2"/><rect x="1055" y="770" width="9" height="5" rx="1.5"/><rect x="1066" y="764" width="9" height="5" rx="1.5"/><rect x="1066" y="770" width="9" height="5" rx="1.5"/><rect x="1077" y="770" width="10" height="5" rx="1.5"/>
</g>

<!-- ================= ICON GROUP 4 ================= -->
<use href="#bug" transform="translate(1197,573)" fill="#5f6877" stroke="#27303d" stroke-width="2"/>
<use href="#bug" transform="translate(1197,643)" fill="#5f6877" stroke="#27303d" stroke-width="2"/>
<use href="#bug" transform="translate(1197,713)" fill="#5f6877" stroke="#27303d" stroke-width="2"/>
<use href="#chk" transform="translate(1250,576)"/>
<use href="#chk" transform="translate(1250,645)"/>
<use href="#chk" transform="translate(1250,715)"/>
<use href="#spark" transform="translate(1415,537) scale(0.8)" fill="#aab6c6"/>
<use href="#spark" transform="translate(1395,566) scale(1.2)" fill="#aab6c6"/>
<path d="M1322,688 L1296,765 L1378,765 L1352,688 Z" fill="url(#gTrail)" stroke="#c9d5e3" stroke-width="1"/>
<path d="M1225,785 C1224,766 1244,756 1260,762 C1266,742 1294,737 1306,751 C1316,733 1352,731 1364,748 C1380,738 1404,745 1406,762 C1426,756 1450,767 1450,785 Z" fill="#ffffff" stroke="#9ab4d0" stroke-width="2"/>
<path d="M1260,785 C1266,772 1282,770 1290,776 M1340,785 C1346,770 1370,768 1378,778" stroke="#c5d5e6" stroke-width="1.5" fill="none"/>
<path d="M1322,674 C1320,695 1330,712 1337,724 C1344,712 1354,695 1352,674 Z" fill="#f5b04a" stroke="#27303d" stroke-width="1.5"/>
<path d="M1330,676 C1330,690 1334,700 1337,706 C1340,700 1344,690 1344,676 Z" fill="#fbe08a"/>
<path d="M1306,624 C1290,640 1284,665 1290,690 C1296,676 1304,668 1313,664 Z" fill="#3f7fd0" stroke="#27303d" stroke-width="2" stroke-linejoin="round"/>
<path d="M1368,624 C1384,640 1390,665 1384,690 C1378,676 1370,668 1361,664 Z" fill="#3f7fd0" stroke="#27303d" stroke-width="2" stroke-linejoin="round"/>
<path d="M1337,513 C1360,535 1372,570 1370,610 C1368,640 1361,658 1357,668 L1317,668 C1313,658 1306,640 1304,610 C1302,570 1314,535 1337,513 Z" fill="#eef1f5" stroke="#27303d" stroke-width="2"/>
<path d="M1352,540 C1362,565 1364,600 1360,630 C1358,648 1354,660 1352,666 L1357,668 C1361,658 1368,640 1370,610 C1372,575 1362,548 1352,540 Z" fill="#cfd6df"/>
<path d="M1337,513 C1348,523 1356,535 1362,550 C1346,555 1328,555 1312,550 C1318,535 1326,523 1337,513 Z" fill="#3f7fd0" stroke="#27303d" stroke-width="2" stroke-linejoin="round"/>
<circle cx="1338" cy="585" r="17" fill="#4a87d4" stroke="#27303d" stroke-width="2"/>
<circle cx="1338" cy="585" r="11" fill="#c8d0da" stroke="#27303d" stroke-width="1.8"/>
<ellipse cx="1337" cy="653" rx="5" ry="28" fill="#3f7fd0" stroke="#27303d" stroke-width="1.8"/>
<rect x="1318" y="664" width="38" height="7" rx="2" fill="#5f6877" stroke="#27303d" stroke-width="1.5"/>
<rect x="1402" y="598" width="51" height="52" rx="10" fill="url(#gApp)" stroke="#27303d" stroke-width="2"/>
<use href="#asl" transform="translate(1427,624) scale(0.6)"/>
<rect x="1402" y="665" width="51" height="52" rx="10" fill="#3a4150" stroke="#27303d" stroke-width="2"/>
<use href="#play" transform="translate(1428,691) scale(1.2)"/>

<!-- ================= ICON GROUP 5 ================= -->
<path d="M1535,592 C1514,592 1510,565 1530,558 C1527,540 1548,530 1565,538 C1572,515 1610,510 1622,532 C1640,525 1660,540 1652,560 C1666,570 1660,592 1640,592 Z" fill="url(#gCloud)" stroke="#27303d" stroke-width="2"/>
<path d="M1578,592 V568 H1566 L1586,545 L1606,568 H1594 V592" fill="#f5f7fa" stroke="#27303d" stroke-width="2" stroke-linejoin="round"/>
<rect x="1516" y="609" width="123" height="83" rx="6" fill="#f3f5f8" stroke="#27303d" stroke-width="2"/>
<path d="M1529,623 H1563 M1529,631 H1548" stroke="#a0a8b3" stroke-width="3"/>
<g stroke="#27303d" stroke-width="1.5">
<rect x="1532" y="668" width="11" height="12" fill="#b5bcc6"/><rect x="1552" y="655" width="11" height="25" fill="#3f7fd0"/><rect x="1572" y="663" width="11" height="17" fill="#b5bcc6"/><rect x="1593" y="649" width="11" height="31" fill="#3f7fd0"/><rect x="1613" y="636" width="11" height="44" fill="#3f7fd0"/>
</g>
<path d="M1535,661 L1558,643 L1578,653 L1617,623" stroke="#27303d" stroke-width="1.8" fill="none"/>
<path d="M1609,622 L1619,621 L1617,631" stroke="#27303d" stroke-width="1.8" fill="none"/>
<rect x="1675" y="512" width="108" height="125" rx="6" fill="#f3f5f8" stroke="#27303d" stroke-width="2"/>
<path d="M1675,528 V518 A6,6 0 0 1 1681,512 H1777 A6,6 0 0 1 1783,518 V528 Z" fill="#3f7fd1" stroke="#27303d" stroke-width="2"/>
<circle cx="1685" cy="520" r="3" fill="#e0524a"/><circle cx="1694" cy="520" r="3" fill="#ecb84a"/><circle cx="1703" cy="520" r="3" fill="#5cb85c"/>
<g stroke="#27303d" stroke-width="1.3">
<path d="M1729.9,542 A27,27 0 0 1 1755.9,566.6 L1742,567.9 A13,13 0 0 0 1729.5,556 Z" fill="#3f7fd0"/>
<path d="M1755.9,571.4 A27,27 0 0 1 1749.7,586.4 L1739,577.4 A13,13 0 0 0 1742,570.1 Z" fill="#dfe3e8"/>
<path d="M1748.1,588.1 A27,27 0 0 1 1702.1,571.4 L1716.05,570.1 A13,13 0 0 0 1738.2,578.2 Z" fill="#6c7583"/>
<path d="M1702,569 A27,27 0 0 1 1726.6,542.1 L1727.9,556 A13,13 0 0 0 1716,569 Z" fill="#c8ced6"/>
</g>
<path d="M1689,610 H1718 M1689,617 H1716 M1689,625 H1703" stroke="#a0a8b3" stroke-width="3"/>
<rect x="1732" y="618" width="6" height="9" fill="#b5bcc6"/><rect x="1743" y="612" width="6" height="15" fill="#b5bcc6"/><rect x="1754" y="606" width="6" height="21" fill="#6a9bd8"/><rect x="1765" y="598" width="6" height="29" fill="#3f7fd0"/>
<use href="#gear" transform="translate(1582,733) scale(0.27)" fill="#a9b1bc" stroke="#27303d" stroke-width="7.4"/>
<use href="#gear" transform="translate(1707,720) scale(0.62)" fill="url(#gGear)" stroke="#27303d" stroke-width="3.2"/>
<path d="M1683,712 L1701,732 L1735,697" stroke="#27303d" stroke-width="15" fill="none" stroke-linejoin="miter"/>
<path d="M1683,712 L1701,732 L1735,697" stroke="#9cc5ec" stroke-width="11" fill="none" stroke-linejoin="miter"/>
<path transform="translate(1580,790) rotate(-33.9)" d="M0,-9 H200 V-24 L245,0 L200,24 V9 H0 Z" fill="url(#gArrow)" stroke="#27303d" stroke-width="2" stroke-linejoin="round"/>

<!-- ================= TIMELINE ================= -->
<line x1="284" y1="851" x2="1649" y2="851" stroke="#1f2b3a" stroke-width="3.5"/>
<g fill="#3b7fd2" stroke="#1f2b3a" stroke-width="2.5">
<circle cx="284" cy="851" r="12"/><circle cx="625" cy="851" r="12"/><circle cx="966" cy="851" r="12"/><circle cx="1308" cy="851" r="12"/><circle cx="1649" cy="851" r="12"/>
</g>
<g text-anchor="middle">
<text class="en" x="284" y="923">Prototype Design</text>
<text class="en" x="625" y="923">UI/UX Design</text>
<text class="en" x="966" y="923">Code Development</text>
<text class="en" x="1308" y="923">Testing &amp; Launch</text>
<text class="en" x="1649" y="923">Maintenance</text>
<text class="zh" x="284" y="989">原型设计</text>
<text class="zh" x="625" y="989">UI/UX设计</text>
<text class="zh" x="966" y="989">代码开发</text>
<text class="zh" x="1308" y="989">测试上线</text>
<text class="zh" x="1649" y="989">后期运维</text>
</g>
</svg>
</body></html>
